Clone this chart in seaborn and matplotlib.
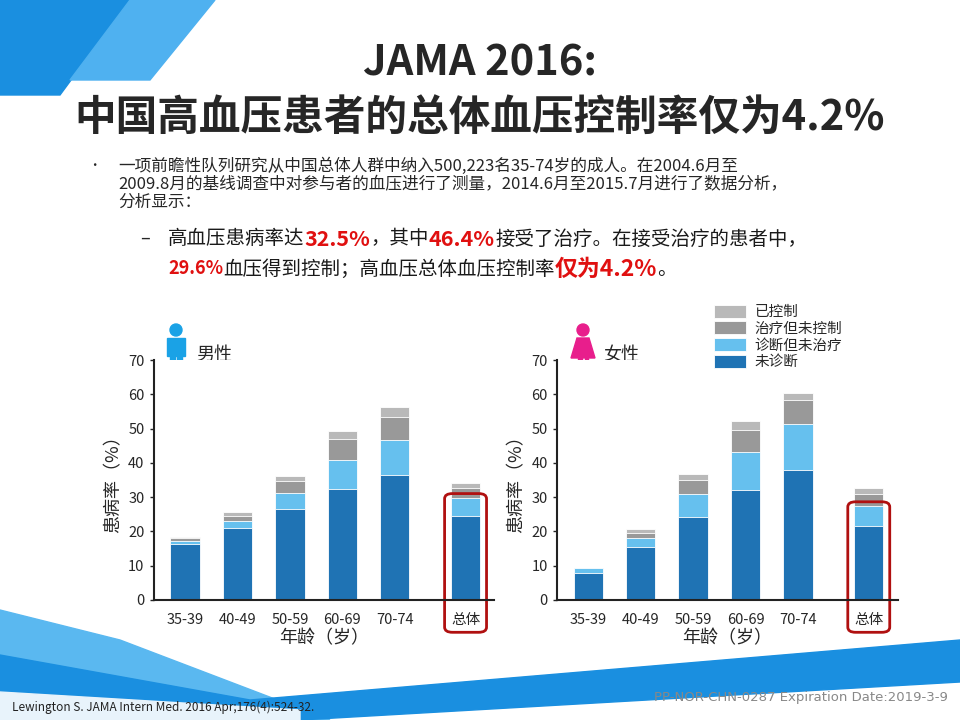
import numpy as np
import pandas as pd
import matplotlib
matplotlib.use("Agg")
import matplotlib.pyplot as plt
import seaborn as sns
from matplotlib.patches import FancyBboxPatch, Polygon, Circle, Rectangle

sns.set_theme(style="white")
plt.rcParams['font.family'] = ['Noto Sans CJK SC', 'DejaVu Sans']

ages = ["35-39", "40-49", "50-59", "60-69", "70-74", "总体"]
layers = ["未诊断", "诊断但未治疗", "治疗但未控制", "已控制"]
colors = ["#1f73b4", "#66c0ee", "#999999", "#b9b9b9"]
# cumulative tops (%)
male_tops = {
    "未诊断":     [16.3, 21.0, 26.6, 32.2, 36.4, 24.6],
    "诊断但未治疗": [17.3, 23.0, 31.3, 40.9, 46.7, 29.8],
    "治疗但未控制": [18.0, 24.5, 34.7, 47.0, 53.4, 32.6],
    "已控制":     [18.4, 25.6, 36.2, 49.4, 56.3, 34.0],
}
female_tops = {
    "未诊断":     [7.8, 15.4, 24.2, 32.0, 37.8, 21.4],
    "诊断但未治疗": [9.2, 18.0, 30.9, 43.0, 51.2, 27.4],
    "治疗但未控制": [9.2, 19.6, 35.0, 49.6, 58.3, 30.8],
    "已控制":     [9.2, 20.6, 36.8, 52.2, 60.5, 32.5],
}
xpos = [0, 1, 2, 3, 4, 5.35]

fig = plt.figure(figsize=(9.6, 7.2), dpi=100)
bg = fig.add_axes([0, 0, 1, 1])
bg.set_xlim(0, 960); bg.set_ylim(720, 0); bg.axis("off")
# decorative shapes
bg.add_patch(Polygon([[0, 0], [130, 0], [60, 95], [0, 95]], color="#1a8fe0", zorder=0))
bg.add_patch(Polygon([[130, 0], [215, 0], [150, 80], [70, 80]], color="#4fb1f0", zorder=0))
bg.add_patch(Polygon([[0, 610], [120, 640], [330, 720], [0, 720]], color="#5ab8f0", zorder=0))
bg.add_patch(Polygon([[0, 655], [250, 700], [960, 640], [960, 682], [300, 720], [0, 720]],
                     color="#1a8fe0", zorder=0))
bg.add_patch(Polygon([[0, 692], [300, 710], [300, 720], [0, 720]], color="#e8f3fb", zorder=0))

bg.text(480, 64, "JAMA 2016:", ha="center", va="center", fontsize=30, fontweight="bold")
bg.text(480, 118, "中国高血压患者的总体血压控制率仅为4.2%", ha="center", va="center", fontsize=30, fontweight="bold")
bg.text(88, 165, "•", fontsize=9, va="center")
bg.text(118, 158, "一项前瞻性队列研究从中国总体人群中纳入500,223名35-74岁的成人。在2004.6月至\n"
        "2009.8月的基线调查中对参与者的血压进行了测量，2014.6月至2015.7月进行了数据分析，\n分析显示：",
        fontsize=12, va="top", linespacing=1.05)
bg.text(140, 239, "–", fontsize=13, va="center")
red = "#e01010"
line1 = [("高血压患病率达", "k", 14, "normal"), ("32.5%", red, 15.5, "bold"), ("，其中", "k", 14, "normal"),
         ("46.4%", red, 15.5, "bold"), ("接受了治疗。在接受治疗的患者中，", "k", 14, "normal")]
line2 = [("29.6%", red, 13, "bold"), ("血压得到控制；高血压总体血压控制率", "k", 14, "normal"),
         ("仅为4.2%", red, 16.5, "bold"), ("。", "k", 14, "normal")]
fig.canvas.draw()
r = fig.canvas.get_renderer()
for y, parts, x0 in [(239, line1, 168), (269, line2, 168)]:
    x = x0
    for s, c, fs, fw in parts:
        t = bg.text(x, y, s, color=c, fontsize=fs, fontweight=fw, va="center")
        x += t.get_window_extent(renderer=r).width
bg.text(12, 707, "Lewington S. JAMA Intern Med. 2016 Apr;176(4):524-32.", fontsize=8.5, va="center", color="#222222")
bg.text(948, 697, "PP-NOR-CHN-0287 Expiration Date:2019-3-9", fontsize=9.5, ha="right", va="center",
        color="#888888", family="DejaVu Sans")


def draw_person(x, y, color, female=False):
    bg.add_patch(Circle((x, y - 20), 6, color=color))
    if female:
        bg.add_patch(Polygon([[x - 6, y - 12], [x + 6, y - 12], [x + 12, y + 8], [x - 12, y + 8]], color=color))
        bg.add_patch(Rectangle((x - 5, y + 8), 3.5, 12, color=color))
        bg.add_patch(Rectangle((x + 1.5, y + 8), 3.5, 12, color=color))
    else:
        bg.add_patch(Rectangle((x - 9, y - 12), 18, 18, color=color))
        bg.add_patch(Rectangle((x - 6, y + 6), 5, 16, color=color))
        bg.add_patch(Rectangle((x + 1, y + 6), 5, 16, color=color))


def panel(rect, tops):
    ax = fig.add_axes(rect)
    for layer, col in zip(reversed(layers), reversed(colors)):
        df = pd.DataFrame({"x": xpos, "v": tops[layer]})
        ax.bar(df["x"], df["v"], width=0.56, color=col, label=layer, edgecolor="white", linewidth=0.6)
    ax.set_ylim(0, 70)
    ax.set_xlim(-0.6, 5.9)
    ax.set_yticks(range(0, 71, 10))
    ax.set_xticks(xpos)
    ax.set_xticklabels(ages, fontsize=10.5)
    ax.tick_params(axis="y", labelsize=10.5, left=True, length=3, width=1)
    ax.tick_params(axis="x", bottom=False)
    sns.despine(ax=ax)
    for s in ["left", "bottom"]:
        ax.spines[s].set_color("#222222"); ax.spines[s].set_linewidth(1.5)
    ax.set_ylabel("患病率（%）", fontsize=13)
    ax.set_xlabel("年龄（岁）", fontsize=13, labelpad=2)
    hl = FancyBboxPatch((4.95, -9.5), 0.8, 9.5 + tops["诊断但未治疗"][5] + 1.2,
                        boxstyle="round,pad=0,rounding_size=0.15", fill=False, ec="#b01010", lw=2,
                        clip_on=False, mutation_aspect=10)
    ax.add_patch(hl)
    return ax

ax1 = panel([0.16, 0.167, 0.355, 0.333], male_tops)
ax2 = panel([0.58, 0.167, 0.355, 0.333], female_tops)
draw_person(176, 350, "#1aa2e6")
bg.text(196, 355, "男性", fontsize=13, va="center")
draw_person(583, 350, "#e81e8c", female=True)
bg.text(603, 355, "女性", fontsize=13, va="center")
h, l = ax2.get_legend_handles_labels()
fig.legend(h, l, loc="upper left", bbox_to_anchor=(0.73, 0.595), frameon=False, fontsize=10.5,
           handlelength=2.2, handleheight=1.0, labelspacing=0.15, handletextpad=0.6)

fig.savefig("out.png", dpi=100)
